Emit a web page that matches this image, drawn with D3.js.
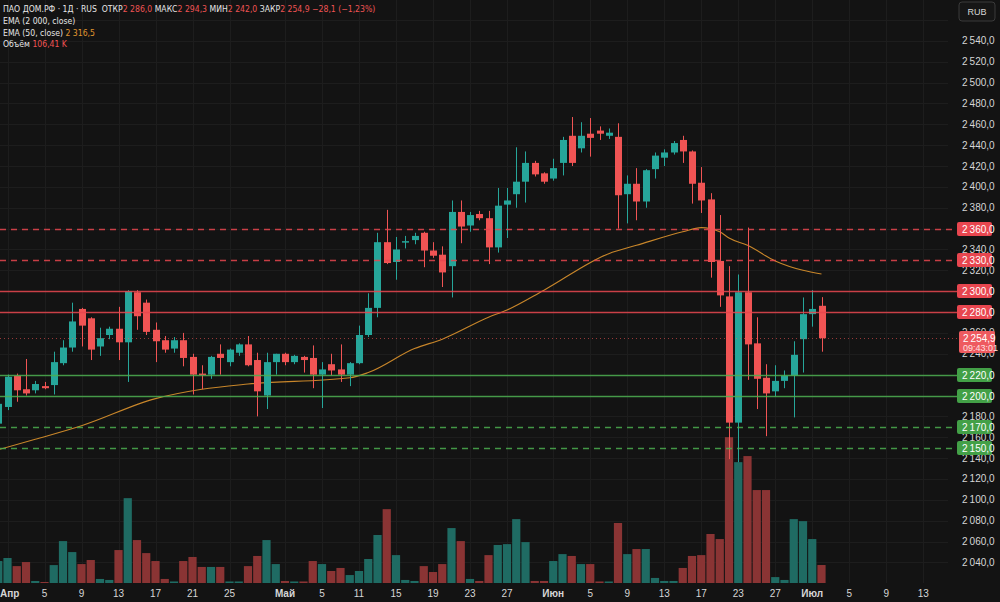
<!DOCTYPE html>
<html><head><meta charset="utf-8">
<script src="https://cdn.jsdelivr.net/npm/d3@7"></script>
<style>
html,body{margin:0;padding:0;background:#131313;overflow:hidden;}
svg{display:block;font-family:"Liberation Sans",Arial,sans-serif;}
.hdr{white-space:pre;font-family:"Liberation Sans Narrow","DejaVu Sans Condensed","Roboto Condensed","Liberation Sans",sans-serif;}
</style></head><body>
<svg id="c" width="1000" height="602"></svg>
<script>
// ---------- DATA ----------
const barIdx = d3.range(-1, 89);
const opens  = [2173,2189,2219,2206,2205,2209,2210,2231,2246,2283,2274,2247,2258,2264,2251,2299,2289,2263,2253,2245,2253,2237,2221,2220,2240,2232,2241,2249,2234,2200,2232,2240,2232,2237,2236,2220,2230,2225,2220,2231,2258,2284,2347,2328,2347,2349,2356,2339,2335,2324,2376,2363,2374,2370,2342,2383,2393,2405,2423,2413,2408,2423,2449,2437,2451,2454,2449,2448,2393,2403,2386,2417,2428,2433,2445,2434,2404,2388,2329,2295,2174,2299,2250,2217,2204,2214,2219,2254,2278,2286];
const highs  = [2198,2220,2221,2235,2214,2213,2242,2253,2289,2284,2275,2265,2266,2285,2301,2301,2292,2270,2257,2256,2260,2240,2229,2238,2249,2245,2250,2257,2241,2241,2240,2241,2239,2238,2248,2232,2240,2249,2232,2267,2298,2356,2378,2352,2353,2356,2357,2347,2343,2387,2387,2376,2377,2377,2399,2399,2438,2434,2425,2414,2427,2448,2467,2462,2466,2458,2456,2461,2411,2418,2417,2433,2436,2444,2449,2435,2419,2394,2373,2324,2316,2361,2275,2230,2229,2224,2252,2294,2301,2294.3];
const lows   = [2165,2186,2194,2200,2202,2206,2201,2229,2242,2247,2234,2238,2254,2234,2213,2263,2258,2232,2241,2241,2228,2201,2206,2216,2220,2228,2238,2228,2180,2187,2220,2229,2230,2222,2207,2188,2219,2213,2209,2230,2256,2275,2326,2311,2341,2345,2323,2332,2304,2294,2346,2357,2368,2326,2337,2351,2380,2385,2410,2403,2406,2411,2420,2433,2429,2445,2446,2360,2365,2368,2380,2408,2420,2431,2423,2384,2375,2313,2285,2139,2136,2215,2187,2161,2199,2207,2179,2222,2266,2242];
const closes = [2192,2218,2205,2202,2211,2207,2232,2246,2271,2267,2244,2255,2264,2251,2300,2276,2261,2252,2244,2253,2236,2220,2220,2237,2236,2244,2249,2229,2204,2232,2240,2232,2238,2234,2220,2225,2224,2220,2231,2258,2284,2347,2327,2340,2348,2353,2339,2334,2318,2376,2362,2373,2370,2342,2382,2387,2405,2423,2412,2405,2418,2445,2423,2449,2447,2451,2452,2392,2403,2386,2416,2430,2433,2442,2434,2403,2387,2328,2296,2174,2299,2249,2216,2202,2214,2219,2239,2278,2283,2254.9];
const volumesK = [130,148,100,124,12,6,106,248,183,112,136,24,18,195,502,254,177,130,24,9,130,154,95,95,95,9,9,100,160,254,112,12,9,9,130,112,71,89,47,71,142,284,437,165,18,12,100,65,112,325,248,24,12,165,225,230,378,242,12,12,130,171,160,112,112,9,9,355,171,201,201,30,12,12,89,160,165,290,260,863,715,751,550,550,35,18,378,366,260,106.41];
const emaIdx  = [-1,3,8,16,21,26,37,39,44,47,52,54,58,65,68,73,75,77,78,80,83,86,88];
const emaVals = [2148,2158,2171,2197,2206,2211,2217,2222,2245,2254,2275,2282,2301,2336,2344,2357,2361,2357,2351,2344,2329,2320,2316.5];
const tickIdx    = [0,4,8,12,16,20,24,30,34,38,42,46,50,54,59,63,67,71,75,79,83,87,91,95,99];
const tickLabels = ["Апр","5","9","13","17","21","25","Май","5","11","15","19","23","27","Июн","5","9","13","17","23","27","Июл","5","9","13"];
const tickMonth  = [1,0,0,0,0,0,0,1,0,0,0,0,0,0,1,0,0,0,0,0,0,1,0,0,0];
const levelVals  = [2360,2330,2300,2280,2220,2200,2170,2150];
const levelKind  = ["rd","rd","rs","rs","gs","gs","gd","gd"];
const priceTicks = d3.range(2040, 2561, 20);
const lastPrice = 2254.9, lastTime = "09:43:01";
const headerLine1 = [["ПАО ДОМ.РФ · 1Д · RUS  ОТКР","w"],["2 286,0","r"],[" МАКС","w"],["2 294,3","r"],[" МИН","w"],["2 242,0","r"],[" ЗАКР","w"],["2 254,9","r"],[" −28,1 (−1,23%)","r"]];
const headerLine2 = [["EMA (2 000, close)","w"]];
const headerLine3 = [["EMA (50, close) ","w"],["2 316,5","o"]];
const headerLine4 = [["Объём ","w"],["106,41 K","r"]];

// ---------- SETUP ----------
const W = 1000, H = 602, plotR = 948, volBase = 583;
const UP = "#26a69a", DN = "#f05454", UPV = "#1f6b63", DNV = "#8a3434";
const RED = "#e8464f", GRN = "#4caf50";
const fmt = d3.formatLocale({decimal:",", thousands:"\u2009", grouping:[3], currency:["",""]}).format(",.1f");
const svg = d3.select("#c");
svg.append("rect").attr("width",W).attr("height",H).attr("fill","#131313");

const x = d3.scaleLinear().domain([-1, 99]).range([-1.75, 923.25]);
const y = d3.scaleLinear().domain([2200, 2300]).range([395.5, 291.2]);
const v = d3.scaleLinear().domain([0, 1000]).range([volBase, 414]);

svg.append("clipPath").attr("id","plot").append("rect").attr("x",0).attr("y",0).attr("width",plotR).attr("height",volBase);

// grid
const grid = svg.append("g").attr("clip-path","url(#plot)").attr("stroke","#1d1d1d").attr("stroke-width",1);
grid.selectAll("line.h").data(priceTicks).join("line")
  .attr("x1",0).attr("x2",plotR).attr("y1",d=>Math.round(y(d))+0.5).attr("y2",d=>Math.round(y(d))+0.5);
grid.selectAll("line.v").data(tickIdx).join("line")
  .attr("y1",0).attr("y2",volBase).attr("x1",d=>Math.round(x(d))+0.5).attr("x2",d=>Math.round(x(d))+0.5);

const bars = barIdx.map((k,i)=>({k, o:opens[i], h:highs[i], l:lows[i], c:closes[i], vol:volumesK[i]}));

// volume
const gv = svg.append("g").attr("clip-path","url(#plot)");
gv.selectAll("rect").data(bars).join("rect")
  .attr("x",d=>x(d.k)-4.1).attr("width",8.2)
  .attr("y",d=>v(d.vol)).attr("height",d=>volBase - v(d.vol))
  .attr("fill",d=>d.c>=d.o?UPV:DNV);

// EMA 50
const emaPts = emaIdx.map((k,i)=>[k, emaVals[i]]);
svg.append("path").attr("clip-path","url(#plot)")
  .attr("d", d3.line().x(d=>x(d[0])).y(d=>y(d[1])).curve(d3.curveMonotoneX)(emaPts))
  .attr("fill","none").attr("stroke","#c8862a").attr("stroke-width",1.1);

// candles
const gc = svg.append("g").attr("clip-path","url(#plot)");
gc.selectAll("line").data(bars).join("line")
  .attr("x1",d=>Math.round(x(d.k))+0.5).attr("x2",d=>Math.round(x(d.k))+0.5)
  .attr("y1",d=>y(d.h)).attr("y2",d=>y(d.l))
  .attr("stroke",d=>d.c>=d.o?UP:DN).attr("stroke-width",1);
gc.selectAll("rect").data(bars).join("rect")
  .attr("x",d=>Math.round(x(d.k))-3).attr("width",7)
  .attr("y",d=>y(Math.max(d.o,d.c))).attr("height",d=>Math.max(1.5, Math.abs(y(d.o)-y(d.c))))
  .attr("fill",d=>d.c>=d.o?UP:DN);

// last price dotted line
svg.append("line").attr("x1",0).attr("x2",958).attr("y1",Math.round(y(lastPrice))+0.5).attr("y2",Math.round(y(lastPrice))+0.5)
  .attr("stroke",DN).attr("stroke-opacity",0.6).attr("stroke-dasharray","1,3");

// level lines
const levels = levelVals.map((val,i)=>({val, kind:levelKind[i]}));
svg.append("g").selectAll("line").data(levels).join("line")
  .attr("x1",0).attr("x2",958).attr("y1",d=>Math.round(y(d.val))+0.5).attr("y2",d=>Math.round(y(d.val))+0.5)
  .attr("stroke",d=>d.kind[0]==="r"?RED:GRN).attr("stroke-width",1.3).attr("stroke-opacity",0.85)
  .attr("stroke-dasharray",d=>d.kind[1]==="d"?"6,5":null);

// price axis labels (those under a level label or the currency button are hidden, as in the reference)
const ax = svg.append("g").attr("font-size",10).attr("fill","#d6d6d6");
ax.selectAll("text").data(priceTicks.filter(t=>!levelVals.includes(t) && t<2550)).join("text")
  .attr("x",962).attr("y",d=>y(d)).attr("dy","0.35em").text(d=>fmt(d));

// level labels
const lab = svg.append("g").selectAll("g").data(levels).join("g")
  .attr("transform",d=>`translate(957,${Math.round(y(d.val))-7})`);
lab.append("rect").attr("width",35).attr("height",14).attr("rx",2)
  .attr("fill",d=>d.kind[0]==="r"?"#e8464f":"#43a047");
lab.append("text").attr("x",5).attr("y",7).attr("dy","0.35em").attr("font-size",10).attr("fill","#ffffff").text(d=>fmt(d.val));

// last price label
const lp = svg.append("g").attr("transform",`translate(959,${Math.round(y(lastPrice))-7})`);
lp.append("rect").attr("width",36).attr("height",22).attr("rx",2).attr("fill","#ee5a5f");
lp.append("text").attr("x",4).attr("y",7).attr("dy","0.35em").attr("font-size",10).attr("fill","#fff").text(fmt(lastPrice));
lp.append("text").attr("x",4).attr("y",17).attr("dy","0.35em").attr("font-size",9).attr("fill","#ffe0e0").text(lastTime);

// RUB button
const rb = svg.append("g").attr("transform","translate(959,2)");
rb.append("rect").attr("width",36).attr("height",19).attr("rx",3).attr("fill","#161616").attr("stroke","#3a3a3a");
rb.append("text").attr("x",18).attr("y",10).attr("dy","0.35em").attr("text-anchor","middle").attr("font-size",9).attr("fill","#d6d6d6").text("RUB");

// time axis
svg.append("g").selectAll("text").data(tickIdx).join("text")
  .attr("x",d=>x(d)).attr("y",593).attr("dy","0.35em").attr("text-anchor",(d,i)=>i===0?"start":"middle")
  .attr("font-size",10).attr("font-weight",(d,i)=>tickMonth[i]?"bold":"normal")
  .attr("fill","#d6d6d6").text((d,i)=>tickLabels[i])
  .attr("dx",(d,i)=>i===0?-x(d):0);

// header
const col = {w:"#e6e6e6", r:"#f05454", o:"#e0962f"};
function headerLine(parts, yy){
  const t = svg.append("text").attr("class","hdr").attr("x",3).attr("y",yy).attr("font-size",8.6);
  t.selectAll("tspan").data(parts).join("tspan").attr("fill",d=>col[d[1]]).text(d=>d[0]);
}
headerLine(headerLine1, 12);
headerLine(headerLine2, 24);
headerLine(headerLine3, 36);
headerLine(headerLine4, 47);
</script>
</body></html>
